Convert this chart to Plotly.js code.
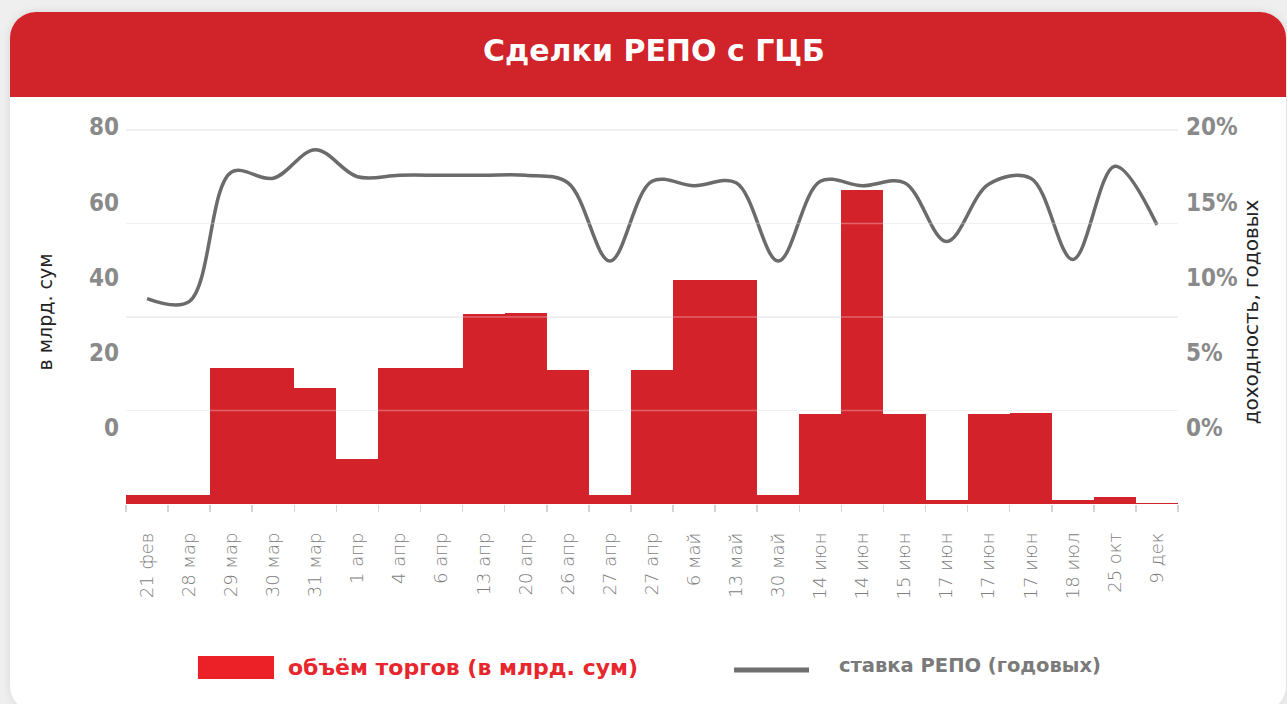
<!DOCTYPE html>
<html>
<head>
<meta charset="utf-8">
<script src="https://cdn.plot.ly/plotly-3.0.1.min.js"></script>
<style>
  html, body { margin: 0; padding: 0; background: #efefef; width: 1287px; height: 704px; overflow: hidden; }
  #card { position: absolute; left: 10px; top: 12px; width: 1276px; height: 700px; border-radius: 26px;
          background: #ffffff; overflow: hidden; box-shadow: 0 0 10px rgba(0,0,0,0.10); }
  #chart { position: absolute; left: 0; top: 0; width: 1276px; height: 700px; }
</style>
</head>
<body>
<div id="card"><div id="chart"></div></div>
<script>
// ---- data ----
const dates = ["21 фев","28 мар","29 мар","30 мар","31 мар","1 апр","4 апр","6 апр","13 апр","20 апр",
               "26 апр","27 апр","27 апр","6 май","13 май","30 май","14 июн","14 июн","15 июн","17 июн",
               "17 июн","17 июн","18 июл","25 окт","9 дек"];
const volume = [1.9, 1.9, 29.1, 29.1, 24.8, 9.6, 29.1, 29.1, 40.6, 40.9,
                28.7, 1.9, 28.7, 47.9, 47.9, 1.9, 19.3, 67.2, 19.3, 0.9,
                19.3, 19.5, 0.9, 1.5, 0.2];
const repoRate = [8.6, 8.4, 17.0, 16.6, 18.5, 16.7, 16.8, 16.8, 16.8, 16.8,
                  16.3, 11.1, 16.4, 16.1, 16.3, 11.1, 16.4, 16.1, 16.3, 12.4,
                  16.2, 16.6, 11.2, 17.4, 13.5];
const leftTicks = [0, 20, 40, 60, 80];
const rightTicks = [0, 5, 10, 15, 20];
const titleText = "Сделки РЕПО с ГЦБ";
const volumeName = "объём торгов (в млрд. сум)";
const rateName = "ставка РЕПО (годовых)";
const leftTitle = "в млрд. сум";
const rightTitle = "доходность, годовых";

// unique category keys (duplicate dates get invisible zero-width suffixes)
const seen = {};
const cats = dates.map(d => { seen[d] = (seen[d] || 0) + 1; return d + "\u200b".repeat(seen[d] - 1); });

const RED = "#d3222a";
const GREY_LINE = "#6b6b6b";
const TICK_GREY = "#8a8a8a";
const numFont = {family: "'Liberation Sans Narrow', 'DejaVu Sans Condensed', 'Roboto', sans-serif", size: 24, color: TICK_GREY, weight: 700};
const wideFont = "'DejaVu Sans', 'Open Sans', sans-serif";

const traces = [
  {type: "bar", x: cats, y: volume, name: volumeName, marker: {color: RED, line: {width: 0}},
   yaxis: "y", showlegend: false},
  {type: "scatter", mode: "lines", x: cats, y: repoRate, name: rateName, yaxis: "y2",
   line: {color: GREY_LINE, width: 3.5, shape: "spline", smoothing: 1}, showlegend: false},
  // empty trace so the left label axis gets drawn
  {type: "scatter", mode: "markers", x: [], y: [], yaxis: "y3", showlegend: false, hoverinfo: "skip"}
];

// faint grid stripes drawn over the bars (the reference shows its grid through the bars)
const gridOverlay = leftTicks.filter(v => v > 0).map(v => ({
  type: "line", xref: "paper", yref: "y", x0: 0, x1: 1, y0: v, y1: v,
  line: {color: "rgba(255,255,255,0.3)", width: 1.5}, layer: "above"
}));

const layout = {
  width: 1276, height: 700,
  margin: {l: 116, r: 108, t: 108, b: 208},
  paper_bgcolor: "rgba(0,0,0,0)", plot_bgcolor: "rgba(0,0,0,0)",
  bargap: 0,
  title: {text: titleText, x: 0.5047, xref: "container", xanchor: "center", y: 0.9457, yref: "container", yanchor: "middle",
          font: {family: wideFont, size: 30, color: "#ffffff", weight: 700}},
  xaxis: {type: "category", tickson: "boundaries", ticks: "outside", ticklen: 7, tickwidth: 1.5, tickcolor: "#d4d4d4",
          tickangle: -90, showgrid: false, zeroline: false, showline: false, ticklabelstandoff: 24,
          tickfont: {family: wideFont, size: 18, color: "#7e7e7e", weight: 300}},
  yaxis: {range: [0, 82.14], dtick: 20, showgrid: true, gridcolor: "#ebebeb", gridwidth: 1.5, zeroline: false,
          showticklabels: false, ticks: ""},
  yaxis3: {overlaying: "y", side: "left", range: [-20.2, 81.86], tickmode: "array", tickvals: leftTicks,
           showgrid: false, zeroline: false, ticks: "", ticklabelstandoff: 6, tickfont: numFont,
           title: {text: leftTitle, standoff: 31, font: {family: wideFont, size: 19, color: "#222222"}}},
  yaxis2: {overlaying: "y", side: "right", range: [-5.05, 20.47], tickmode: "array", tickvals: rightTicks,
           ticktext: rightTicks.map(v => v + "%"),
           showgrid: false, zeroline: false, ticks: "", ticklabelstandoff: 7, tickfont: numFont,
           title: {text: rightTitle, standoff: 7, font: {family: wideFont, size: 20, color: "#222222"}}},
  shapes: [
    {type: "rect", xref: "paper", yref: "paper", x0: -0.2, x1: 1.3, y0: 1.0599, y1: 1.6, fillcolor: "#d0232a",
     line: {width: 0}, layer: "below"},
    {type: "rect", xref: "paper", yref: "paper", x0: 0.0684, x1: 0.1407, y0: -0.4557, y1: -0.3958,
     fillcolor: "#ec2027", line: {width: 0}},
    {type: "line", xref: "paper", yref: "paper", x0: 0.578, x1: 0.6493, y0: -0.4323, y1: -0.4323,
     line: {color: "#6e6e6e", width: 5}}
  ].concat(gridOverlay),
  annotations: [
    {text: volumeName, xref: "paper", yref: "paper", x: 0.1521, y: -0.4245, xanchor: "left", yanchor: "middle",
     showarrow: false, font: {family: wideFont, size: 22, color: "#e8262d", weight: 700}},
    {text: rateName, xref: "paper", yref: "paper", x: 0.6759, y: -0.4193, xanchor: "left", yanchor: "middle",
     showarrow: false, font: {family: wideFont, size: 19.5, color: "#7a7a7a", weight: 700}}
  ],
  showlegend: false
};

Plotly.newPlot("chart", traces, layout, {displayModeBar: false, staticPlot: true});
</script>
</body>
</html>
